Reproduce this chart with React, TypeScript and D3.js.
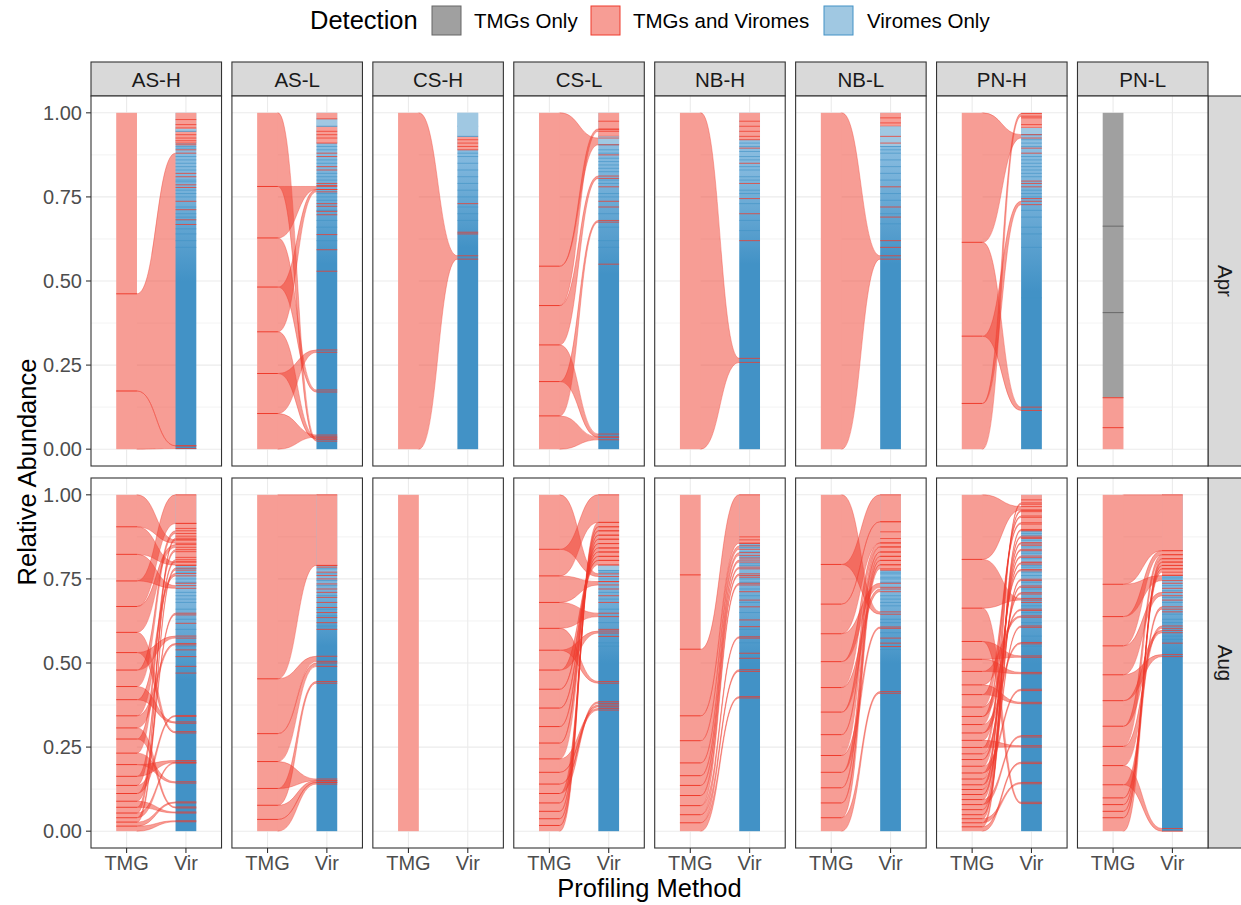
import * as d3 from "d3";

const sites = ["AS-H", "AS-L", "CS-H", "CS-L", "NB-H", "NB-L", "PN-H", "PN-L"];
const months = ["Apr", "Aug"];
const methods = ["TMG", "Vir"];
const yTicks = [0, 0.25, 0.5, 0.75, 1];
const yMinor = [0.125, 0.375, 0.625, 0.875];
const detection = ["TMGs Only", "TMGs and Viromes", "Viromes Only"];

// ---- April ----
const tmgAprASH = [0, 0.173, 0.462, 1];
const toAprASH = [[0.002, 0.01], [0.01, 0.88], null];
const blkAprASH = [[0.91, 1, "r"], [0.945, 0.953, "l"]];
const redAprASH = [0.98, 0.965, 0.955, 0.935, 0.925, 0.917, 0.905, 0.89, 0.82, 0.81, 0.786, 0.778, 0.737, 0.712, 0.682, 0.668];
const bluAprASH = [0.9, 0.895, 0.87, 0.86, 0.85, 0.84, 0.83, 0.8, 0.795, 0.77, 0.76, 0.75, 0.72, 0.7, 0.69, 0.655, 0.64, 0.62, 0.6];
const shdAprASH = [0.5, 0.82];

const tmgAprASL = [0, 0.106, 0.225, 0.349, 0.482, 0.628, 0.781, 1];
const toAprASL = [[0.036, 0.042], [0.288, 0.295], [0.03, 0.036], [0.765, 0.772], [0.17, 0.176], [0.772, 0.781], [0.024, 0.03]];
const blkAprASL = [[0.91, 0.96, "r"], [0.96, 0.982, "l"], [0.982, 1, "r"]];
const redAprASL = [0.945, 0.935, 0.925, 0.88, 0.87, 0.84, 0.83, 0.79, 0.784, 0.73, 0.722, 0.707, 0.697, 0.638, 0.593, 0.529];
const bluAprASL = [0.9, 0.89, 0.86, 0.85, 0.82, 0.81, 0.8, 0.76, 0.75, 0.74, 0.71, 0.68, 0.66, 0.62];
const shdAprASL = [0.55, 0.85];

const tmgAprCSH = [0, 1];
const toAprCSH = [[0.565, 0.575]];
const blkAprCSH = [[0.89, 0.93, "r"], [0.93, 1, "l"]];
const redAprCSH = [0.92, 0.91, 0.9, 0.73, 0.645, 0.64];
const bluAprCSH = [0.96, 0.88, 0.87, 0.85, 0.83, 0.81, 0.79, 0.77, 0.75, 0.72, 0.7, 0.68];
const shdAprCSH = [0.6, 0.85];

const tmgAprCSL = [0, 0.099, 0.201, 0.31, 0.427, 0.544, 1];
const toAprCSL = [[0.028, 0.036], [0.675, 0.68], [0.036, 0.045], [0.805, 0.812], [0.945, 0.952], [0.905, 0.925]];
const blkAprCSL = [[0.93, 1, "r"], [0.905, 0.93, "l"]];
const redAprCSL = [0.975, 0.95, 0.875, 0.78, 0.737, 0.72, 0.55];
const bluAprCSL = [0.89, 0.88, 0.865, 0.855, 0.845, 0.835, 0.825, 0.8, 0.79, 0.76, 0.75, 0.7, 0.66, 0.62, 0.6];
const shdAprCSL = [0.52, 0.85];

const tmgAprNBH = [0, 1];
const toAprNBH = [[0.258, 0.27]];
const blkAprNBH = [[0.92, 1, "r"]];
const redAprNBH = [0.975, 0.96, 0.945, 0.93, 0.895, 0.85, 0.79, 0.745, 0.7, 0.62];
const bluAprNBH = [0.91, 0.9, 0.885, 0.87, 0.86, 0.84, 0.83, 0.81, 0.8, 0.77, 0.76, 0.73, 0.68, 0.65];
const shdAprNBH = [0.55, 0.82];

const tmgAprNBL = [0, 1];
const toAprNBL = [[0.565, 0.575]];
const blkAprNBL = [[0.96, 1, "r"], [0.9, 0.96, "l"]];
const redAprNBL = [0.985, 0.97, 0.93, 0.91, 0.78, 0.72, 0.69, 0.62, 0.6];
const bluAprNBL = [0.95, 0.94, 0.92, 0.89, 0.88, 0.86, 0.84, 0.82, 0.8, 0.76, 0.74, 0.7, 0.67];
const shdAprNBL = [0.55, 0.85];

const tmgAprPNH = [0, 0.136, 0.336, 0.615, 1];
const toAprPNH = [[0.99, 0.998], [0.727, 0.737], [0.115, 0.125], [0.925, 0.935]];
const blkAprPNH = [[0.955, 1, "r"], [0.935, 0.955, "l"]];
const redAprPNH = [0.985, 0.965, 0.895, 0.88, 0.797, 0.79, 0.78, 0.745];
const bluAprPNH = [0.945, 0.92, 0.91, 0.9, 0.87, 0.86, 0.85, 0.84, 0.83, 0.82, 0.81, 0.77, 0.76, 0.75, 0.71, 0.69, 0.66, 0.64, 0.6, 0.45];
const shdAprPNH = [0.47, 0.82];

const tmgAprPNL = [0, 0.064, 0.153, 0.406, 0.663, 1];
const catAprPNL = ["b", "b", "t", "t", "t"];
const toAprPNL = [null, null, null, null, null];

// ---- August ----
const tmgAugASH = [0, 0.015, 0.027, 0.04, 0.054, 0.071, 0.089, 0.112, 0.136, 0.163, 0.198, 0.232, 0.274, 0.307, 0.343, 0.391, 0.43, 0.479, 0.531, 0.591, 0.668, 0.744, 0.823, 0.905, 1];
const toAugASH = [
  [0.028, 0.031], [0.084, 0.087], [0.776, 0.782], [0.202, 0.205], [0.866, 0.871], [0.054, 0.057],
  [0.643, 0.648], [0.341, 0.344], [0.801, 0.807], [0.205, 0.21], [0.143, 0.147], [0.831, 0.837],
  [0.069, 0.072], [0.554, 0.558], [0.759, 0.766], [0.321, 0.325], [0.885, 0.893], [0.574, 0.58],
  [0.292, 0.296], [0.844, 0.852], [0.915, 1], [0.722, 0.73], [0.791, 0.8], [0.856, 0.866],
];
const blkAugASH = [[0.79, 1, "r"]];
const redAugASH = [0.915, 0.9, 0.877, 0.814, 0.737, 0.618, 0.539, 0.519, 0.49, 0.47];
const bluAugASH = [0.78, 0.77, 0.75, 0.74, 0.71, 0.7, 0.69, 0.68, 0.66, 0.63, 0.6, 0.55];
const shdAugASH = [0.45, 0.7];

const tmgAugASL = [0, 0.035, 0.077, 0.127, 0.207, 0.29, 0.453, 1];
const toAugASL = [[0.14, 0.145], [0.145, 0.15], [0.44, 0.445], [0.15, 0.155], [0.49, 0.5], [0.505, 0.52], [0.79, 1]];
const blkAugASL = [[0.79, 1, "r"]];
const redAugASL = [0.785, 0.77, 0.76, 0.75, 0.735, 0.72, 0.71, 0.695, 0.68, 0.665, 0.65, 0.635, 0.62, 0.6];
const bluAugASL = [0.78, 0.765, 0.745, 0.73, 0.7, 0.66, 0.64, 0.61];
const shdAugASL = [0.55, 0.75];

const tmgAugCSH = [0, 1];
const toAugCSH = [null];

const tmgAugCSL = [0, 0.017, 0.037, 0.059, 0.084, 0.112, 0.14, 0.175, 0.215, 0.262, 0.311, 0.366, 0.422, 0.479, 0.538, 0.603, 0.68, 0.759, 0.838, 1];
const toAugCSL = [
  [0.905, 0.918], [0.893, 0.905], [0.88, 0.893], [0.868, 0.88], [0.855, 0.868], [0.38, 0.385],
  [0.37, 0.375], [0.36, 0.365], [0.842, 0.855], [0.83, 0.842], [0.817, 0.83], [0.805, 0.817],
  [0.792, 0.805], [0.589, 0.595], [0.44, 0.445], [0.638, 0.648], [0.732, 0.742], [0.918, 1], [0.757, 0.765],
];
const blkAugCSL = [[0.79, 1, "r"], [0.775, 0.79, "l"]];
const redAugCSL = [0.742, 0.72, 0.7, 0.68, 0.6, 0.579];
const bluAugCSL = [0.785, 0.77, 0.75, 0.71, 0.69, 0.66, 0.62, 0.56, 0.55];
const shdAugCSL = [0.5, 0.75];

const tmgAugNBH = [0, 0.025, 0.049, 0.076, 0.106, 0.136, 0.165, 0.203, 0.269, 0.343, 0.541, 0.762, 1];
const toAugNBH = [[0.396, 0.4], [0.475, 0.48], [0.574, 0.578], [0.732, 0.737], [0.76, 0.765], [0.78, 0.785], [0.8, 0.806], [0.82, 0.828], [0.838, 0.848], [0.856, 1], null, null];
const blkAugNBH = [[0.856, 1, "r"]];
const redAugNBH = [0.875, 0.866, 0.812, 0.755, 0.712, 0.687, 0.667, 0.628, 0.608, 0.529, 0.514];
const bluAugNBH = [0.85, 0.843, 0.83, 0.815, 0.795, 0.79, 0.75, 0.74, 0.72, 0.7, 0.68, 0.65, 0.6, 0.56];
const shdAugNBH = [0.5, 0.78];

const tmgAugNBL = [0, 0.04, 0.084, 0.129, 0.175, 0.225, 0.287, 0.354, 0.427, 0.504, 0.587, 0.675, 0.793, 1];
const toAugNBL = [[0.41, 0.415], [0.78, 0.792], [0.792, 0.805], [0.805, 0.817], [0.603, 0.607], [0.817, 0.83], [0.83, 0.845], [0.712, 0.72], [0.845, 0.857], [0.725, 0.737], [0.857, 0.92], [0.92, 1], [0.645, 0.652]];
const blkAugNBL = [[0.776, 1, "r"]];
const redAugNBL = [0.89, 0.87, 0.574, 0.559, 0.549];
const bluAugNBL = [0.77, 0.765, 0.755, 0.75, 0.74, 0.7, 0.69, 0.68, 0.67, 0.63, 0.62, 0.59, 0.54];
const shdAugNBL = [0.5, 0.72];

const tmgAugPNH = [0, 0.013, 0.025, 0.037, 0.049, 0.064, 0.079, 0.094, 0.109, 0.124, 0.138, 0.155, 0.173, 0.193, 0.213, 0.23, 0.249, 0.27, 0.292, 0.317, 0.341, 0.369, 0.406, 0.435, 0.475, 0.511, 0.564, 0.663, 0.808, 1];
const toAugPNH = [
  [0.201, 0.205], [0.893, 0.897], [0.141, 0.145], [0.873, 0.877], [0.745, 0.749], [0.854, 0.858],
  [0.28, 0.284], [0.834, 0.838], [0.725, 0.729], [0.972, 0.976], [0.606, 0.61], [0.814, 0.818],
  [0.418, 0.422], [0.794, 0.798], [0.705, 0.709], [0.95, 0.954], [0.25, 0.254], [0.774, 0.778],
  [0.557, 0.561], [0.933, 0.937], [0.656, 0.66], [0.913, 0.917], [0.379, 0.383], [0.636, 0.64],
  [0.468, 0.472], [0.517, 0.521], [0.082, 0.086], [0.687, 0.692], [0.955, 0.965],
];
const blkAugPNH = [[0.895, 1, "r"]];
const redAugPNH = [0.985, 0.87, 0.85, 0.8, 0.68];
const bluAugPNH = [0.89, 0.885, 0.88, 0.865, 0.845, 0.83, 0.825, 0.81, 0.79, 0.785, 0.77, 0.76, 0.74, 0.72, 0.69, 0.67, 0.65, 0.62, 0.58, 0.55];
const shdAugPNH = [0.5, 0.8];

const tmgAugPNL = [0, 0.04, 0.059, 0.079, 0.099, 0.138, 0.195, 0.252, 0.312, 0.388, 0.465, 0.551, 0.638, 0.734, 1];
const toAugPNL = [[0.8, 0.81], [0.79, 0.8], [0.78, 0.79], [0.77, 0.78], [0.66, 0.667], [0, 0.008], [0.603, 0.61], [0.81, 0.822], [0.59, 0.597], [0.519, 0.525], [0.7, 0.71], [0.822, 0.834], [0.745, 0.76], [0.834, 1]];
const blkAugPNL = [[0.761, 1, "r"]];
const redAugPNL = [0.737, 0.722, 0.687, 0.652, 0.559];
const bluAugPNL = [0.755, 0.75, 0.73, 0.715, 0.695, 0.68, 0.645, 0.63, 0.62, 0.58, 0.57];
const shdAugPNL = [0.52, 0.72];

const panels = [
  { site: "AS-H", month: "Apr", tmg: tmgAprASH, to: toAprASH, vir: { blk: blkAprASH, red: redAprASH, blue: bluAprASH, shd: shdAprASH } },
  { site: "AS-L", month: "Apr", tmg: tmgAprASL, to: toAprASL, vir: { blk: blkAprASL, red: redAprASL, blue: bluAprASL, shd: shdAprASL } },
  { site: "CS-H", month: "Apr", tmg: tmgAprCSH, to: toAprCSH, vir: { blk: blkAprCSH, red: redAprCSH, blue: bluAprCSH, shd: shdAprCSH } },
  { site: "CS-L", month: "Apr", tmg: tmgAprCSL, to: toAprCSL, vir: { blk: blkAprCSL, red: redAprCSL, blue: bluAprCSL, shd: shdAprCSL } },
  { site: "NB-H", month: "Apr", tmg: tmgAprNBH, to: toAprNBH, vir: { blk: blkAprNBH, red: redAprNBH, blue: bluAprNBH, shd: shdAprNBH } },
  { site: "NB-L", month: "Apr", tmg: tmgAprNBL, to: toAprNBL, vir: { blk: blkAprNBL, red: redAprNBL, blue: bluAprNBL, shd: shdAprNBL } },
  { site: "PN-H", month: "Apr", tmg: tmgAprPNH, to: toAprPNH, vir: { blk: blkAprPNH, red: redAprPNH, blue: bluAprPNH, shd: shdAprPNH } },
  { site: "PN-L", month: "Apr", tmg: tmgAprPNL, cat: catAprPNL, to: toAprPNL, vir: null },
  { site: "AS-H", month: "Aug", tmg: tmgAugASH, to: toAugASH, vir: { blk: blkAugASH, red: redAugASH, blue: bluAugASH, shd: shdAugASH } },
  { site: "AS-L", month: "Aug", tmg: tmgAugASL, to: toAugASL, vir: { blk: blkAugASL, red: redAugASL, blue: bluAugASL, shd: shdAugASL } },
  { site: "CS-H", month: "Aug", tmg: tmgAugCSH, to: toAugCSH, vir: null },
  { site: "CS-L", month: "Aug", tmg: tmgAugCSL, to: toAugCSL, vir: { blk: blkAugCSL, red: redAugCSL, blue: bluAugCSL, shd: shdAugCSL } },
  { site: "NB-H", month: "Aug", tmg: tmgAugNBH, to: toAugNBH, vir: { blk: blkAugNBH, red: redAugNBH, blue: bluAugNBH, shd: shdAugNBH } },
  { site: "NB-L", month: "Aug", tmg: tmgAugNBL, to: toAugNBL, vir: { blk: blkAugNBL, red: redAugNBL, blue: bluAugNBL, shd: shdAugNBL } },
  { site: "PN-H", month: "Aug", tmg: tmgAugPNH, to: toAugPNH, vir: { blk: blkAugPNH, red: redAugPNH, blue: bluAugPNH, shd: shdAugPNH } },
  { site: "PN-L", month: "Aug", tmg: tmgAugPNL, to: toAugPNL, vir: { blk: blkAugPNL, red: redAugPNL, blue: bluAugPNL, shd: shdAugPNL } },
];

const RED = "#EF3B2C";
const RED_FILL = "#F79D95";
const BLUE = "#4292C6";
const BLUE_FILL = "#A0C8E2";
const GREY = "#666666";
const GREY_FILL = "#A0A0A0";
const FONT = "Liberation Sans, Arial, Helvetica, sans-serif";

const colScale = d3.scaleBand().domain(sites).range([91, 1208]).paddingInner(0.0738);
const rowScale = d3.scaleBand().domain(months).range([96, 848]).paddingInner(0.0314);
const PW = colScale.bandwidth();
const PH = rowScale.bandwidth();

const Panel = ({ d }) => {
  const px = colScale(d.site);
  const py = rowScale(d.month);
  const x = d3.scalePoint().domain(methods).range([0, PW]).padding(0.6);
  const y = d3.scaleLinear().domain([-0.05, 1.05]).range([PH, 0]);
  const bw = x.step() * 0.35;
  const xT = x("TMG");
  const xV = x("Vir");
  const xa = xT + bw / 2;
  const xb = xV - bw / 2;
  const xm = (xa + xb) / 2;
  const gid = `grad-${d.site}-${d.month}`;

  const strata = d.tmg.slice(0, -1).map((t0, i) => ({
    t0,
    t1: d.tmg[i + 1],
    cat: d.cat ? d.cat[i] : "b",
    to: d.to[i],
  }));

  // flow body: sigmoid from TMG right edge to Vir left edge (tucked 1px under the bars)
  const curve = (a, b) => `M${xa},${y(a)}C${xm},${y(a)} ${xm},${y(b)} ${xb},${y(b)}`;
  const flowPath = (s) => {
    const [v0, v1] = s.to;
    return `M${xa - 1},${y(s.t1)}L${xa},${y(s.t1)}C${xm},${y(s.t1)} ${xm},${y(v1)} ${xb},${y(v1)}L${xb + 1},${y(v1)}L${xb + 1},${y(v0)}L${xb},${y(v0)}C${xm},${y(v0)} ${xm},${y(s.t0)} ${xa},${y(s.t0)}L${xa - 1},${y(s.t0)}Z`;
  };
  const flows = strata.filter((s) => s.to);
  const flowEnds = flows.flatMap((s) => s.to);
  const tmgLines = d.tmg.filter((t) => t > 0 && t < 1);

  const hline = (v, x0, x1, key, color, w, op = 1) => (
    <line key={key} x1={x0} x2={x1} y1={y(v)} y2={y(v)} stroke={color} strokeWidth={w} strokeOpacity={op} />
  );

  return (
    <g transform={`translate(${px},${py})`}>
      <rect width={PW} height={PH} fill="white" />
      {yMinor.map((t) => hline(t, 0, PW, `mn${t}`, "#EBEBEB", 0.6))}
      {yTicks.map((t) => hline(t, 0, PW, `mj${t}`, "#EBEBEB", 1.1))}
      {methods.map((m) => (
        <line key={m} x1={x(m)} x2={x(m)} y1={0} y2={PH} stroke="#EBEBEB" strokeWidth={1.1} />
      ))}

      {flows.map((s, i) => (
        <path key={`f${i}`} d={flowPath(s)} fill={RED} fillOpacity={0.5} stroke="none" />
      ))}
      {flows.map((s, i) => (
        <g key={`fe${i}`}>
          <path d={curve(s.t1, s.to[1])} fill="none" stroke={RED} strokeOpacity={0.55} strokeWidth={0.7} />
          <path d={curve(s.t0, s.to[0])} fill="none" stroke={RED} strokeOpacity={0.55} strokeWidth={0.7} />
        </g>
      ))}

      {strata.map((s, i) => (
        <rect
          key={`s${i}`}
          x={xT - bw / 2}
          width={bw}
          y={y(s.t1)}
          height={y(s.t0) - y(s.t1)}
          fill={s.cat === "t" ? GREY_FILL : RED_FILL}
        />
      ))}
      {tmgLines.map((t, i) => {
        const below = strata.find((s) => s.t1 === t);
        const color = below && below.cat === "t" ? GREY : RED;
        return hline(t, xT - bw / 2, xT + bw / 2, `tl${i}`, color, 1);
      })}

      {d.vir && (
        <g>
          <defs>
            <linearGradient id={gid} gradientUnits="userSpaceOnUse" x1={0} x2={0} y1={y(0)} y2={y(1)}>
              <stop offset={0} stopColor={BLUE} />
              <stop offset={d.vir.shd[0]} stopColor={BLUE} />
              <stop offset={d.vir.shd[1]} stopColor="#80B7DD" />
              <stop offset={1} stopColor="#96C4E3" />
            </linearGradient>
          </defs>
          <rect x={xV - bw / 2} width={bw} y={y(1)} height={y(0) - y(1)} fill={`url(#${gid})`} />
          {d.vir.blue.map((v, i) => hline(v, xV - bw / 2, xV + bw / 2, `b${i}`, BLUE, 0.7, 0.9))}
          {d.vir.blk.map(([v0, v1, c], i) => (
            <g key={`k${i}`}>
              <rect x={xV - bw / 2} width={bw} y={y(v1)} height={y(v0) - y(v1)} fill={c === "r" ? RED_FILL : BLUE_FILL} />
              {hline(v0, xV - bw / 2, xV + bw / 2, "a", c === "r" ? RED : BLUE, 0.8)}
            </g>
          ))}
          {[...d.vir.red, ...flowEnds].map((v, i) => hline(v, xV - bw / 2, xV + bw / 2, `r${i}`, RED, 0.9, 0.85))}
        </g>
      )}

      <rect width={PW} height={PH} fill="none" stroke="#333333" strokeWidth={1.1} />
    </g>
  );
};

const App = () => {
  const yAxis = d3.scaleLinear().domain([-0.05, 1.05]).range([PH, 0]);
  const xIn = d3.scalePoint().domain(methods).range([0, PW]).padding(0.6);
  const legendKeys = [
    { label: detection[0], fill: GREY_FILL, stroke: GREY, kx: 432, tx: 474 },
    { label: detection[1], fill: RED_FILL, stroke: RED, kx: 591, tx: 633 },
    { label: detection[2], fill: BLUE_FILL, stroke: BLUE, kx: 824, tx: 867 },
  ];

  return (
    <svg
      width={1241}
      height={905}
      style={{ position: "absolute", left: 0, top: 0, background: "white" }}
      fontFamily={FONT}
    >
      <rect width={1241} height={905} fill="white" />

      {/* legend */}
      <text x={310} y={29} fontSize={25.5} fill="black">
        Detection
      </text>
      {legendKeys.map((k) => (
        <g key={k.label}>
          <rect x={k.kx} y={6} width={29} height={29} fill={k.fill} stroke={k.stroke} strokeWidth={1} />
          <text x={k.tx} y={27.5} fontSize={20.5} fill="black">
            {k.label}
          </text>
        </g>
      ))}

      {/* top strips */}
      {sites.map((s) => (
        <g key={s} transform={`translate(${colScale(s)},62)`}>
          <rect width={PW} height={34} fill="#D9D9D9" stroke="#333333" strokeWidth={1.1} />
          <text x={PW / 2} y={24.5} textAnchor="middle" fontSize={20.5} fill="#1A1A1A">
            {s}
          </text>
        </g>
      ))}

      {/* right strips */}
      {months.map((m) => (
        <g key={m} transform={`translate(1208,${rowScale(m)})`}>
          <rect width={34} height={PH} fill="#D9D9D9" stroke="#333333" strokeWidth={1.1} />
          <text
            transform={`translate(${17},${PH / 2}) rotate(90)`}
            textAnchor="middle"
            dy={7.3}
            fontSize={20.5}
            fill="#1A1A1A"
          >
            {m}
          </text>
        </g>
      ))}

      {panels.map((d) => (
        <Panel key={`${d.site}-${d.month}`} d={d} />
      ))}

      {/* y axes */}
      {months.map((m) => (
        <g key={m} transform={`translate(91,${rowScale(m)})`}>
          {yTicks.map((t) => (
            <g key={t}>
              <line x1={-5} x2={0} y1={yAxis(t)} y2={yAxis(t)} stroke="#333333" strokeWidth={1.1} />
              <text x={-9} y={yAxis(t)} dy={7.3} textAnchor="end" fontSize={20} fill="#4D4D4D">
                {d3.format(".2f")(t)}
              </text>
            </g>
          ))}
        </g>
      ))}

      {/* x axes */}
      {sites.map((s) => (
        <g key={s} transform={`translate(${colScale(s)},848)`}>
          {methods.map((m) => (
            <g key={m}>
              <line x1={xIn(m)} x2={xIn(m)} y1={0} y2={5} stroke="#333333" strokeWidth={1.1} />
              <text x={xIn(m)} y={22} textAnchor="middle" fontSize={20} fill="#4D4D4D">
                {m}
              </text>
            </g>
          ))}
        </g>
      ))}

      <text x={649.5} y={897} textAnchor="middle" fontSize={25.5} fill="black">
        Profiling Method
      </text>
      <text transform={`translate(36,472) rotate(-90)`} textAnchor="middle" fontSize={25.5} fill="black">
        Relative Abundance
      </text>
    </svg>
  );
};

export default App;
